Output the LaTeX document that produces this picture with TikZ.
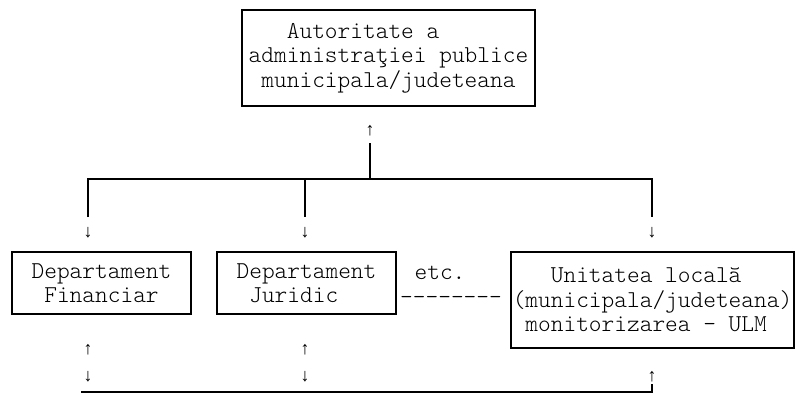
\documentclass[tikz,border=0pt]{standalone}
\usepackage{fontspec}
\setmonofont{Latin Modern Mono Light}
\newfontfamily\arrfont{Liberation Mono}
\begin{document}
\begin{tikzpicture}[x=1pt,y=-1pt,
  every node/.style={font=\ttfamily\fontsize{24.2}{24.4}\selectfont, inner sep=0pt},
  box/.style={draw, line width=1.3pt, align=left},
  arr/.style={font=\arrfont\fontsize{18}{20}\selectfont},
  conn/.style={line width=1.3pt}]
\useasboundingbox (0,0) rectangle (795,397);
% boxes
\node[box, minimum width=293pt, minimum height=96pt] (top) at (388.5,58)
  {~~~Autoritate a\\administraţiei publice\\~municipala/judeteana};
\node[box, minimum width=179pt, minimum height=62pt] (fin) at (101.5,283)
  {Departament\\~Financiar};
\node[box, minimum width=179pt, minimum height=62pt] (jur) at (306.5,283)
  {Departament\\~Juridic};
\node[box, minimum width=283pt, minimum height=96pt] (ulm) at (652.5,300)
  {~~~Unitatea locală\\(municipala/judeteana)\\~monitorizarea - ULM};
\node (etc) at (440,273) {etc.};
\node (dash) at (451,300) {-{}-{}-{}-{}-{}-{}-{}-};
% top arrow and tree
\node[arr] (u0) at (370,131) {↑};
\coordinate (s0) at (370,143);
\coordinate (j0) at (370,179);
\coordinate (hL) at (88,179);
\coordinate (hM) at (305,179);
\coordinate (hR) at (652,179);
\coordinate (dL) at (88,217);
\coordinate (dM) at (305,217);
\coordinate (dR) at (652,217);
\draw[conn] (s0) -- (j0);
\draw[conn] (dL) -- (hL) -- (hR) -- (dR);
\draw[conn] (hM) -- (dM);
\node[arr] (aL) at (88,233) {↓};
\node[arr] (aM) at (305,233) {↓};
\node[arr] (aR) at (652,233) {↓};
% bottom
\node[arr] (bu1) at (88,350) {↑};
\node[arr] (bu2) at (305,350) {↑};
\node[arr] (bd1) at (88,377) {↓};
\node[arr] (bd2) at (305,377) {↓};
\node[arr] (bu3) at (652,377) {↑};
\coordinate (bL) at (81,392);
\coordinate (bR) at (652,392);
\coordinate (bT) at (652,384);
\draw[conn] (bL) -- (bR) -- (bT);
\end{tikzpicture}
\end{document}
